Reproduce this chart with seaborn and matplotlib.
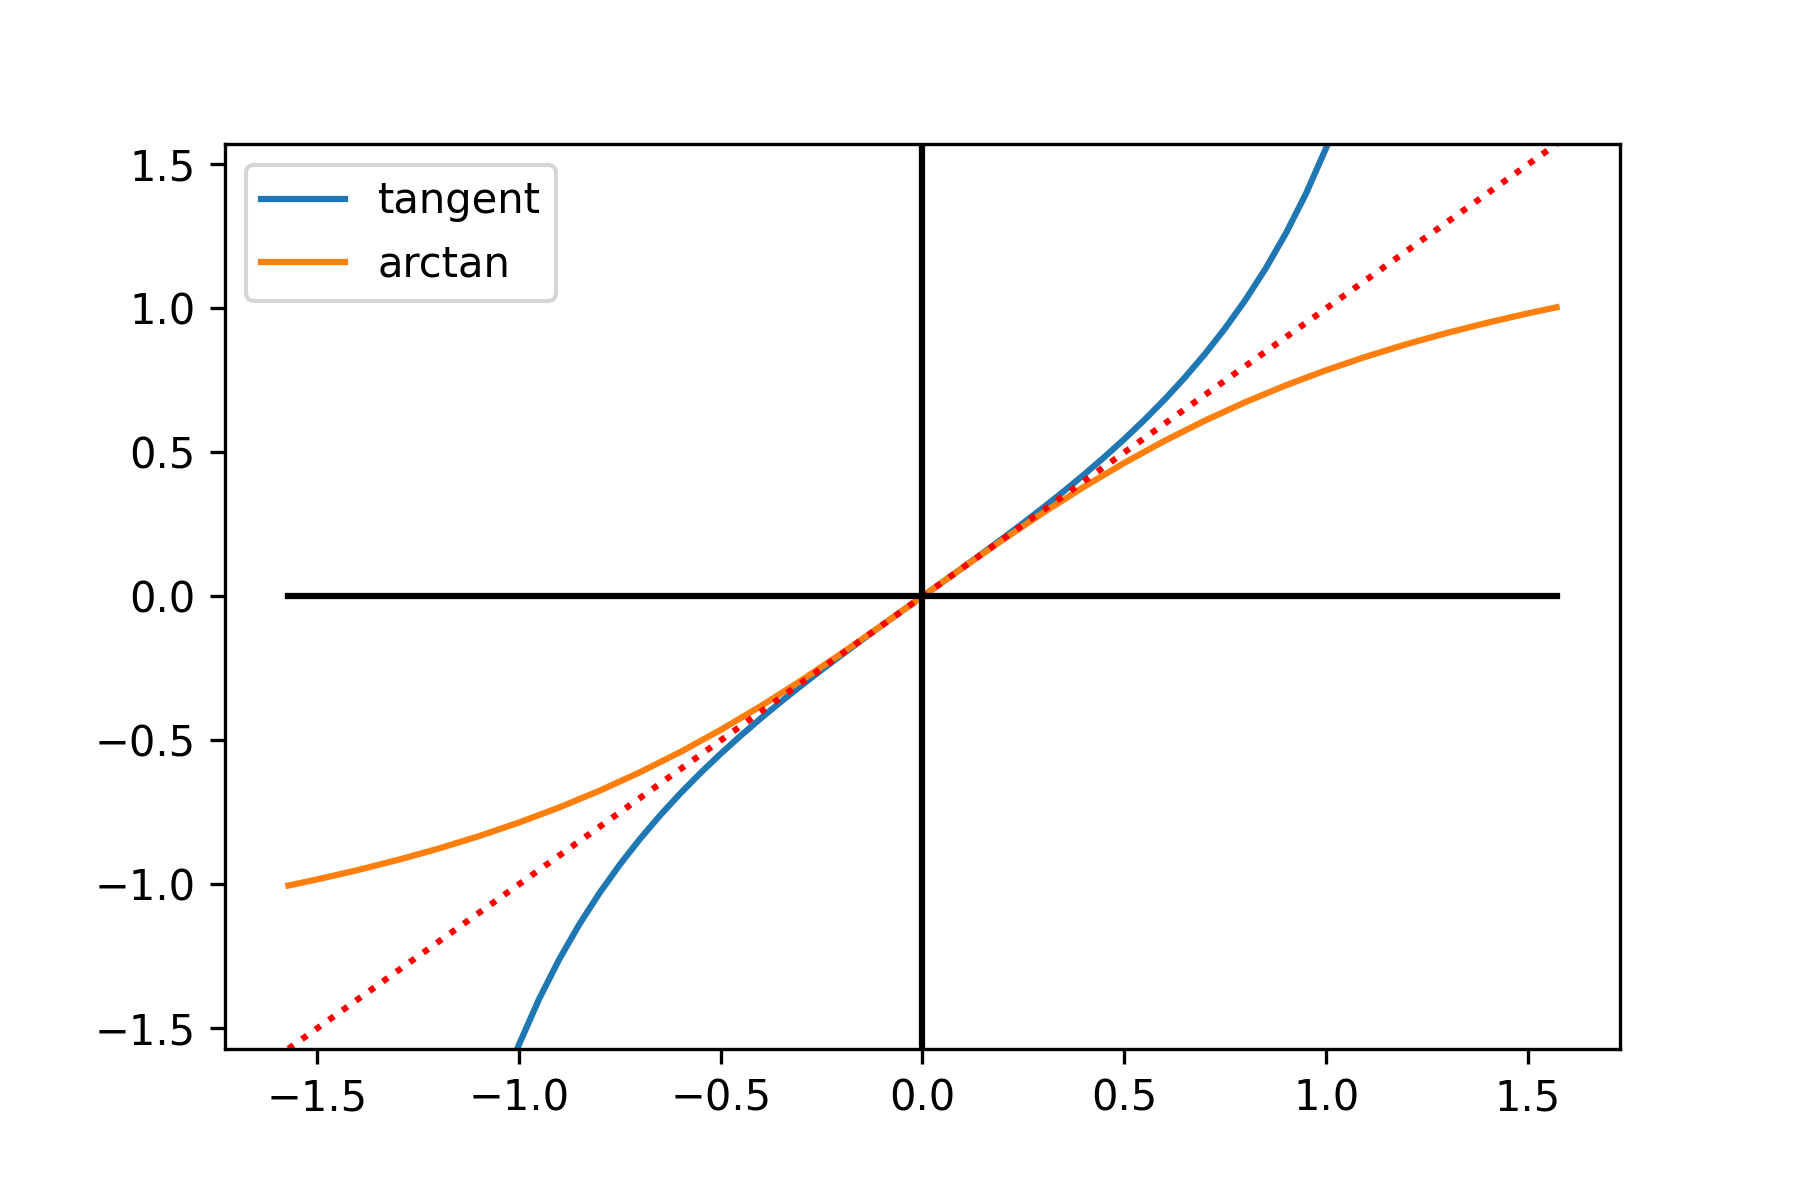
import numpy as np
import matplotlib
matplotlib.use('Agg')
import matplotlib.pyplot as plt
import seaborn as sns

# values
tan_x = [-1.01, -1.0, -0.95, -0.9, -0.85, -0.8, -0.75, -0.7, -0.65, -0.6, -0.55,
         -0.5, -0.45, -0.4, -0.35, -0.3, -0.25, -0.2, -0.15, -0.1, -0.05, 0.0,
         0.05, 0.1, 0.15, 0.2, 0.25, 0.3, 0.35, 0.4, 0.45, 0.5, 0.55, 0.6, 0.65,
         0.7, 0.75, 0.8, 0.85, 0.9, 0.95, 1.0, 1.01]
tan_y = [-1.5922, -1.5574, -1.3984, -1.2602, -1.1383, -1.0296, -0.9316, -0.8423,
         -0.7602, -0.6841, -0.6131, -0.5463, -0.4831, -0.4228, -0.3650, -0.3093,
         -0.2553, -0.2027, -0.1511, -0.1003, -0.0500, 0.0,
         0.0500, 0.1003, 0.1511, 0.2027, 0.2553, 0.3093, 0.3650, 0.4228, 0.4831,
         0.5463, 0.6131, 0.6841, 0.7602, 0.8423, 0.9316, 1.0296, 1.1383, 1.2602,
         1.3984, 1.5574, 1.5922]

atan_x = [-1.5708, -1.5, -1.4, -1.3, -1.2, -1.1, -1.0, -0.9, -0.8, -0.7, -0.6,
          -0.5, -0.4, -0.3, -0.2, -0.1, 0.0, 0.1, 0.2, 0.3, 0.4, 0.5, 0.6, 0.7,
          0.8, 0.9, 1.0, 1.1, 1.2, 1.3, 1.4, 1.5, 1.5708]
atan_y = [-1.0039, -0.9828, -0.9505, -0.9151, -0.8761, -0.8330, -0.7854, -0.7328,
          -0.6747, -0.6107, -0.5404, -0.4636, -0.3805, -0.2915, -0.1974, -0.0997,
          0.0, 0.0997, 0.1974, 0.2915, 0.3805, 0.4636, 0.5404, 0.6107, 0.6747,
          0.7328, 0.7854, 0.8330, 0.8761, 0.9151, 0.9505, 0.9828, 1.0039]

diag_x = [-1.5708, 1.5708]
diag_y = [-1.5708, 1.5708]
lim = 1.5708

fig, ax = plt.subplots(figsize=(6, 4), dpi=300)
plt.subplots_adjust(left=0.125, right=0.9, top=0.88, bottom=0.126)

sns.lineplot(x=tan_x, y=tan_y, label='tangent', ax=ax)
sns.lineplot(x=atan_x, y=atan_y, label='arctan', ax=ax)
sns.lineplot(x=diag_x, y=diag_y, color='red', linestyle=':', ax=ax)
sns.lineplot(x=[-lim, lim], y=[0, 0], color='black', ax=ax)
sns.lineplot(x=[0, 0], y=[-lim, lim], color='black', ax=ax, orient='y')

ax.set_ylim(-lim, lim)
ax.legend(loc='upper left', borderpad=0.37)

plt.savefig('out.png', dpi=300)
